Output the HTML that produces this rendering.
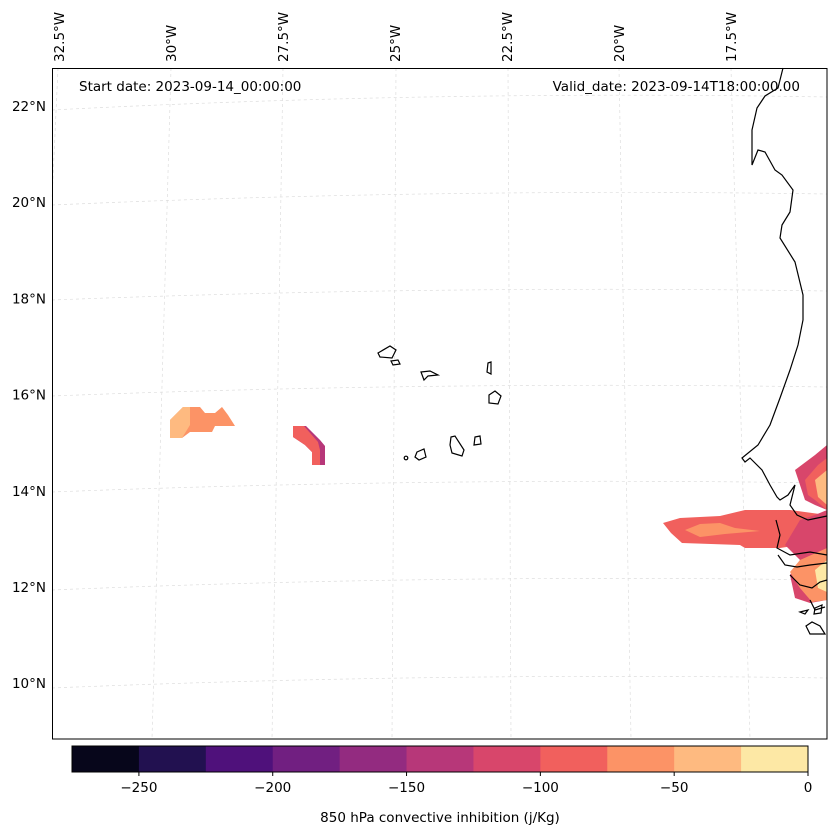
<!DOCTYPE html>
<html><head><meta charset="utf-8"><style>
body{margin:0;background:#fff;font-family:"DejaVu Sans","Liberation Sans",sans-serif;}
svg text{font-family:"DejaVu Sans","Liberation Sans",sans-serif;fill:#000;}
</style></head><body>
<svg width="837" height="836" viewBox="0 0 837 836">
<g stroke="#ddd" stroke-width="0.7" stroke-dasharray="3,3" fill="none">
 <path d="M52,110 Q440,90 827,97"/><path d="M52,205 Q440,188 827,194"/><path d="M52,300 Q440,285 827,291"/>
 <path d="M52,396 Q440,381 827,387"/><path d="M52,492 Q440,477 827,483"/><path d="M52,590 Q440,574 827,580"/>
 <path d="M52,688 Q440,672 827,678"/>
 <path d="M58,68 L52,200"/><path d="M171,68 L152,739"/><path d="M283,68 L272,739"/><path d="M396,68 L392,739"/>
 <path d="M508,68 L511,739"/><path d="M619,68 L631,739"/><path d="M731,68 L750,739"/>
</g>
<g id="fills">
 <polygon fill="#fc9366" points="183,407 200,407 205,413 215,413 222,407 228,415 235,426 215,426 212,432 190,432 182,438 170,438 170,420"/>
 <polygon fill="#feba80" points="183,407 190,407 190,425 182,438 170,438 170,420"/>
 <polygon fill="#b73779" points="293,426 306,426 320,440 325,446 325,465 312,465 312,452 305,445 293,437"/>
 <polygon fill="#f1605d" points="293,426 304,426 318,442 320,450 320,465 312,465 312,452 305,445 293,437"/>
 <polygon fill="#f1605d" points="663,523 680,518 720,516 745,510 790,510 827,515 827,540 800,545 780,548 745,548 740,545 682,543 671,533"/>
 <polygon fill="#fc9366" points="685,530 700,524 720,523 735,528 760,531 725,534 700,537"/>
 <polygon fill="#d8466b" points="795,470 815,455 827,445 827,600 810,603 795,598 790,575 800,560 785,545 800,520 815,515 827,510 815,505 805,500"/>
 <polygon fill="#f1605d" points="805,480 818,465 827,458 827,510 815,500 808,495"/>
 <polygon fill="#feba80" points="815,480 827,470 827,505 818,497"/>
 <polygon fill="#fc9366" points="800,560 827,548 827,600 812,602 800,588 790,572"/>
 <polygon fill="#fde8a5" points="815,570 827,560 827,592 818,588"/>
</g>
<g fill="none" stroke="#000" stroke-width="1.2">
 <path d="M783,68 L778,88 L765,96 L757,108 L752,130 L752,165 L758,150 L765,152 L775,170 L782,175 L793,190 L790,212 L782,225 L780,238 L795,262 L803,295 L803,320 L798,345 L790,370 L780,398 L770,425 L758,445 L742,458 L745,462 L750,458 L762,470 L770,485 L777,497 L780,500 L788,495 L795,485 L790,505 L797,515 L808,520 L827,516"/>
 <path d="M776,520 L780,535 L777,548 L790,555 L810,552 L827,555"/>
 <path d="M778,555 L785,565 L797,567 L810,565 L827,563"/>
 <path d="M790,575 L800,585 L812,588 L820,582 L827,580"/>
 <path d="M810,600 L815,610 L825,607"/>
 <path d="M800,612 L808,610 L805,614 Z"/><path d="M815,608 L822,605 L821,613 L814,614 Z"/>
 <path d="M806,626 L812,622 L820,626 L825,634 L810,634 Z"/>
 <path d="M378,353 L390,346 L396,350 L392,358 L380,357 Z"/>
 <path d="M391,361 L398,360 L400,364 L393,365 Z"/>
 <path d="M421,372 L430,371 L438,375 L428,376 L424,380 Z"/>
 <path d="M488,363 L491,362 L491,374 L487,372 Z"/>
 <path d="M489,395 L495,391 L501,396 L498,404 L489,403 Z"/>
 <path d="M451,437 L455,436 L464,450 L462,456 L452,453 L450,445 Z"/>
 <path d="M475,437 L480,436 L481,444 L474,445 Z"/>
 <path d="M417,452 L424,449 L426,457 L419,460 L415,457 Z"/>
 <circle cx="406" cy="458" r="1.8"/>
</g>
<rect x="52.5" y="68.5" width="774.5" height="670.5" fill="none" stroke="#000" stroke-width="1"/>
<text x="79" y="91" font-size="13.5">Start date: 2023-09-14_00:00:00</text>
<text x="800" y="91" font-size="13.5" text-anchor="end">Valid_date: 2023-09-14T18:00:00.00</text>
<g id="latlabels" font-size="13.5" text-anchor="end"></g>
<g id="lonlabels" font-size="13.5"></g>
<g id="cbar"></g>
<text x="440" y="822" font-size="13.5" text-anchor="middle">850 hPa convective inhibition (j/Kg)</text>
</svg>
<script>
const latLabels=["22°N","20°N","18°N","16°N","14°N","12°N","10°N"];
const latY=[22,20,18,16,14,12,10];
const lonLabels=["32.5°W","30°W","27.5°W","25°W","22.5°W","20°W","17.5°W"];
const lonVals=[-32.5,-30,-27.5,-25,-22.5,-20,-17.5];
const cbarLevels=[-275,-250,-225,-200,-175,-150,-125,-100,-75,-50,-25,0];
const cbarColors=["#07061b","#221150","#4f117b","#711f81","#932b80","#b73779","#d8466b","#f1605d","#fc9366","#feba80","#fde8a5"];
const cbarTicks=[-250,-200,-150,-100,-50,0];
const NS="http://www.w3.org/2000/svg";
const yLat=v=>106+(22-v)*48.1;
const xLon=v=>396+(v+25)*44.8;
const xC=v=>72+(v+275)/275*736;
const lg=document.getElementById('latlabels');
latY.forEach((v,i)=>{const t=document.createElementNS(NS,'text');


t.setAttribute('x',46);t.setAttribute('y',yLat(v)+5);t.textContent=latLabels[i];lg.appendChild(t);});
const og=document.getElementById('lonlabels');
lonVals.forEach((v,i)=>{const t=document.createElementNS(NS,'text');


const x=xLon(v)+4;t.setAttribute('transform','translate('+x+',62) rotate(-90)');t.textContent=lonLabels[i];og.appendChild(t);});
const cg=document.getElementById('cbar');
cbarColors.forEach((c,i)=>{const r=document.createElementNS(NS,'rect');


const x0=xC(cbarLevels[i]),x1=xC(cbarLevels[i+1]);
r.setAttribute('x',x0);r.setAttribute('y',746);r.setAttribute('width',x1-x0+0.5);r.setAttribute('height',26);r.setAttribute('fill',c);cg.appendChild(r);});
const fr=document.createElementNS(NS,'rect');


fr.setAttribute('x',72);fr.setAttribute('y',746);fr.setAttribute('width',736);fr.setAttribute('height',26);fr.setAttribute('fill','none');fr.setAttribute('stroke','#000');cg.appendChild(fr);
cbarTicks.forEach(v=>{const x=xC(v);
const l=document.createElementNS(NS,'line');


l.setAttribute('x1',x);l.setAttribute('x2',x);l.setAttribute('y1',772);l.setAttribute('y2',776);l.setAttribute('stroke','#000');cg.appendChild(l);
const t=document.createElementNS(NS,'text');


t.setAttribute('x',x);t.setAttribute('y',792);t.setAttribute('font-size','13.5');t.setAttribute('text-anchor','middle');t.textContent=v<0?'\u2212'+Math.abs(v):String(v);cg.appendChild(t);});
</script>
</body></html>
